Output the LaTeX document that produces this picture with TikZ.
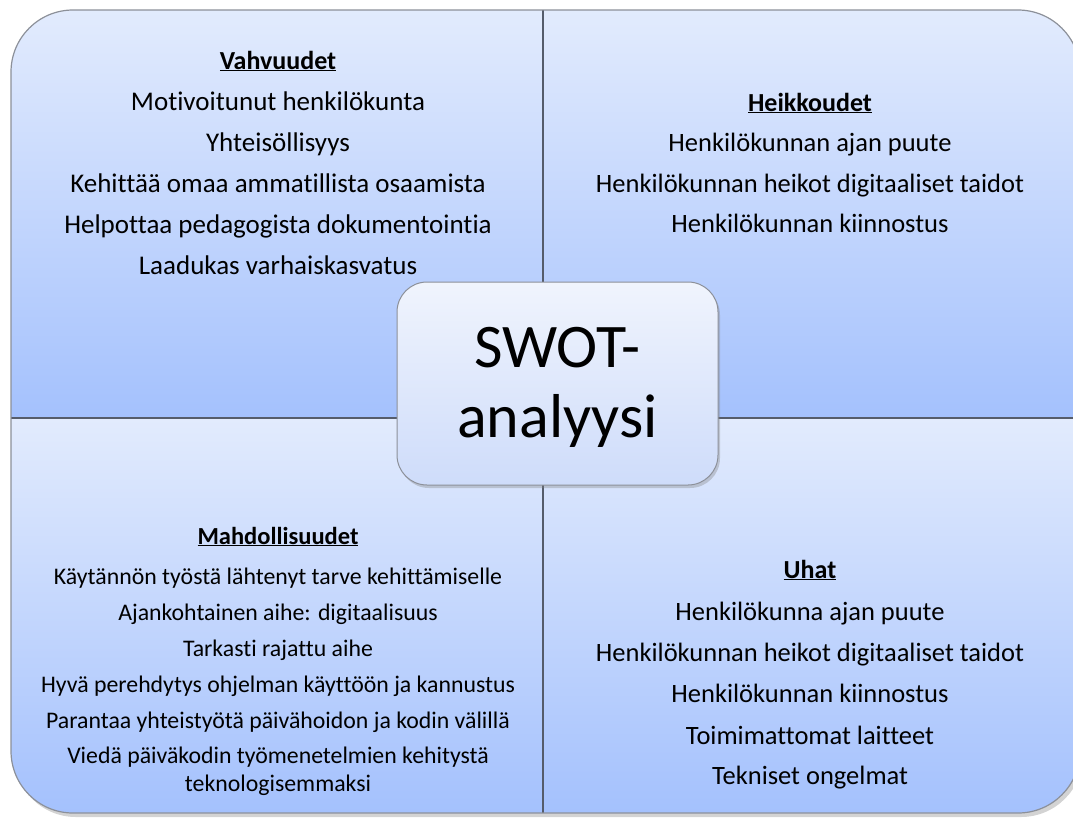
\documentclass[tikz,border=0pt]{standalone}
\usepackage{fontspec}
\setmainfont{Carlito}[Ligatures={NoCommon}]
\usetikzlibrary{shadows}
\definecolor{qtop}{HTML}{E2EBFD}
\definecolor{qbot}{HTML}{A4C1FD}
\definecolor{ctop}{HTML}{F0F4FD}
\definecolor{cbot}{HTML}{CEDCFA}
\definecolor{divider}{HTML}{555C6B}
\definecolor{rim}{HTML}{8C9099}
\tikzset{
  big/.style={anchor=base, inner sep=0pt, font=\fontsize{27}{32}\selectfont},
  mid/.style={anchor=base, inner sep=0pt, font=\fontsize{26.5}{32}\selectfont},
  small/.style={anchor=base, inner sep=0pt, font=\fontsize{23.8}{28}\selectfont},
  head/.style={anchor=base, inner sep=0pt, font=\fontsize{26}{32}\selectfont\bfseries},
  heads/.style={anchor=base, inner sep=0pt, font=\fontsize{24.5}{30}\selectfont\bfseries},
  title/.style={anchor=base, inner sep=0pt, font=\fontsize{62}{70}\selectfont},
  quad/.style={top color=qtop, bottom color=qbot},
}
\begin{document}
\begin{tikzpicture}[x=1pt,y=-1pt]
\useasboundingbox (0,0) rectangle (1073,823);
% outer shape with shadow
\path[fill=white, rounded corners=62pt,
  drop shadow={opacity=0.35, shadow xshift=3pt, shadow yshift=-4pt}]
  (11,10) rectangle (1080,813);
\begin{scope}
  \clip[rounded corners=62pt] (11,10) rectangle (1080,813);
  \shade[quad] (11,10) rectangle (543,418);
  \shade[quad] (543,10) rectangle (1080,418);
  \shade[quad] (11,418) rectangle (543,813);
  \shade[quad] (543,418) rectangle (1080,813);
\end{scope}
\coordinate (vt) at (543,10);
\coordinate (vb) at (543,813);
\coordinate (hl) at (11,418);
\coordinate (hr) at (1080,418);
\draw[divider, line width=2.8pt] (vt) -- (vb);
\draw[divider, line width=2.8pt] (hl) -- (hr);
\draw[rim, line width=1.2pt, rounded corners=62pt] (11,10) rectangle (1080,813);

% Strengths
\node[head] (s0) at (278,69) {\underline{Vahvuudet}};
\node[big] (s1) at (278,110) {Motivoitunut henkilökunta};
\node[big] (s2) at (278,151) {Yhteisöllisyys};
\node[big] (s3) at (278,192) {Kehittää omaa ammatillista osaamista};
\node[big] (s4) at (278,233) {Helpottaa pedagogista dokumentointia};
\node[big] (s5) at (278,274) {Laadukas varhaiskasvatus};

% Weaknesses
\node[head] (w0) at (810,111) {\underline{Heikkoudet}};
\node[mid] (w1) at (810,151) {Henkilökunnan ajan puute};
\node[mid] (w2) at (810,192) {Henkilökunnan heikot digitaaliset taidot};
\node[mid] (w3) at (810,232) {Henkilökunnan kiinnostus};

% Opportunities
\node[heads] (o0) at (278,544) {\underline{Mahdollisuudet}};
\node[small] (o1) at (278,584) {Käytännön työstä lähtenyt tarve kehittämiselle};
\node[small] (o2) at (278,620) {Ajankohtainen aihe: digitaalisuus};
\node[small] (o3) at (278,656) {Tarkasti rajattu aihe};
\node[small] (o4) at (278,692) {Hyvä perehdytys ohjelman käyttöön ja kannustus};
\node[small] (o5) at (278,728) {Parantaa yhteistyötä päivähoidon ja kodin välillä};
\node[small] (o6) at (278,763) {Viedä päiväkodin työmenetelmien kehitystä};
\node[small] (o7) at (278,791) {teknologisemmaksi};

% Threats
\node[head] (t0) at (810,578) {\underline{Uhat}};
\node[mid] (t1) at (810,620) {Henkilökunna ajan puute};
\node[mid] (t2) at (810,661) {Henkilökunnan heikot digitaaliset taidot};
\node[mid] (t3) at (810,702) {Henkilökunnan kiinnostus};
\node[mid] (t4) at (810,744) {Toimimattomat laitteet};
\node[mid] (t5) at (810,784) {Tekniset ongelmat};

% Centre
\node[draw=rim, line width=1pt, rounded corners=30pt, top color=ctop, bottom color=cbot,
  minimum width=321pt, minimum height=203pt, inner sep=0pt,
  drop shadow={opacity=0.35, shadow xshift=2pt, shadow yshift=-3pt}]
  (swot) at (557.5,383.5) {};
\node[title] (c1) at (557.5,367) {SWOT-};
\node[title] (c2) at (557.5,437) {analyysi};
\end{tikzpicture}
\end{document}
